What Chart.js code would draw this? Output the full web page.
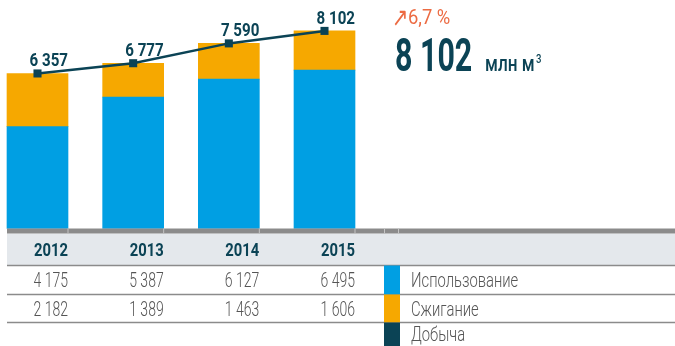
<!DOCTYPE html>
<html>
<head>
<meta charset="utf-8">
<script src="https://cdn.jsdelivr.net/npm/chart.js@4.4.1/dist/chart.umd.min.js"></script>
<style>
  html, body { margin: 0; padding: 0; background: #fff; }
  #wrap { position: relative; width: 675px; height: 346px; }
</style>
</head>
<body>
<div id="wrap"><canvas id="gasChart"></canvas></div>
<script>
// Попутный газ, млн м3
const years = ['2012', '2013', '2014', '2015'];
const usage = [4175, 5387, 6127, 6495];        // Использование
const flaring = [2182, 1389, 1463, 1606];      // Сжигание
const production = [6357, 6777, 7590, 8102];   // Добыча
const legendNames = ['Использование', 'Сжигание', 'Добыча'];

const BLUE = '#009fe3';
const ORANGE = '#f6a800';
const TEAL = '#0b4355';
const GREY_TXT = '#555555';
const RED = '#ec6b43';
const FONT = 'Roboto, "DejaVu Sans", sans-serif';

// 6 357 -> "6 357"
function fmt(v) {
    return String(v).replace(/\B(?=(\d{3})+(?!\d))/g, ' ');
}

// узкий шрифт: сжимаем текст по горизонтали
function drawText(ctx, str, x, y, font, color, align, sx) {
    ctx.save();
    ctx.font = font;
    ctx.fillStyle = color;
    ctx.textAlign = align;
    ctx.textBaseline = 'alphabetic';
    ctx.translate(x, y);
    ctx.scale(sx, 1);
    ctx.fillText(str, 0, 0);
    ctx.restore();
}

const barHalf = 30.5;

const tablePlugin = {
    id: 'gasTable',
    afterDatasetsDraw(chart) {
        const ctx = chart.ctx;
        const xs = chart.scales.x;
        const ys = chart.scales.y;
        const meta = chart.getDatasetMeta(2);

        // подписи над точками добычи
        production.forEach((v, i) => {
            const p = meta.data[i];
            drawText(ctx, fmt(v), xs.getPixelForValue(i) + barHalf, p.y - 7,
                'bold 18px ' + FONT, TEAL, 'right', 0.84);
        });

        const base = ys.getPixelForValue(0);
        const left = 7, right = 675;

        // шапка таблицы
        ctx.fillStyle = '#e4e8ec';
        ctx.fillRect(left, base + 5, right - left, 32);
        ctx.fillStyle = '#8b8b8b';
        ctx.fillRect(left, base, right - left, 5);
        ctx.fillStyle = '#c4c4c4';
        years.forEach((y, i) => {
            ctx.fillRect(xs.getPixelForValue(i) + barHalf - 0.5, base, 1, 5);
        });
        ctx.fillRect(384, base, 1, 5);
        ctx.fillRect(398, base, 1, 5);

        // линии строк
        const rows = [base + 37, base + 66, base + 94];
        ctx.fillStyle = '#8b8b8b';
        rows.forEach(r => ctx.fillRect(left, r - 0.75, right - left, 1.5));

        years.forEach((y, i) => {
            const xr = xs.getPixelForValue(i) + barHalf;
            drawText(ctx, y, xr, base + 27, 'bold 19px ' + FONT, TEAL, 'right', 0.78);
            drawText(ctx, fmt(usage[i]), xr, base + 58, '300 20px ' + FONT, GREY_TXT, 'right', 0.7);
            drawText(ctx, fmt(flaring[i]), xr, base + 87, '300 20px ' + FONT, GREY_TXT, 'right', 0.7);
        });

        // легенда справа от таблицы
        const boxes = [[BLUE, rows[0], rows[1]], [ORANGE, rows[1], rows[2]], [TEAL, rows[2], 346]];
        boxes.forEach(([c, y0, y1], k) => {
            ctx.fillStyle = c;
            ctx.fillRect(384, y0, 16, y1 - y0);
            drawText(ctx, legendNames[k], 411, (y0 + y1) / 2 + 7, '300 20px ' + FONT, GREY_TXT, 'left', 0.74);
        });

        // итог за последний год
        const last = production[production.length - 1];
        const prev = production[production.length - 2];
        const growth = ((last / prev - 1) * 100).toFixed(1).replace('.', ',');
        drawText(ctx, '↗', 392, 26, '26px "DejaVu Sans", sans-serif', RED, 'left', 0.75);
        drawText(ctx, growth + ' %', 408, 24, '20px ' + FONT, RED, 'left', 0.92);
        drawText(ctx, fmt(last), 395, 71, 'bold 46px ' + FONT, TEAL, 'left', 0.66);
        drawText(ctx, 'млн м', 485, 71, '500 22px ' + FONT, TEAL, 'left', 0.78);
        drawText(ctx, '3', 536, 63, '500 12px ' + FONT, TEAL, 'left', 0.8);
    }
};

const ctx = document.getElementById('gasChart').getContext('2d');
new Chart(ctx, {
    type: 'bar',
    data: {
        labels: years,
        datasets: [
            {
                label: legendNames[0],
                data: usage,
                backgroundColor: BLUE,
                stack: 'gas',
                barThickness: 61,
                clip: false,
                order: 2
            },
            {
                label: legendNames[1],
                data: flaring,
                backgroundColor: ORANGE,
                stack: 'gas',
                barThickness: 61,
                clip: false,
                order: 2
            },
            {
                type: 'line',
                label: legendNames[2],
                data: production,
                stack: 'total',
                borderColor: TEAL,
                borderWidth: 2.5,
                pointStyle: 'rect',
                pointRadius: 5.7,
                pointBorderWidth: 0,
                pointBackgroundColor: TEAL,
                tension: 0,
                clip: false,
                order: 1
            }
        ]
    },
    options: {
        responsive: true,
        maintainAspectRatio: false,
        animation: false,
        layout: { padding: { left: 37.5, right: 350.5, top: 9, bottom: 117.5 } },
        plugins: {
            legend: { display: false },
            tooltip: { enabled: false }
        },
        scales: {
            x: { display: false, stacked: true, offset: false },
            y: { display: false, stacked: true, min: 0, max: 9000 }
        }
    },
    plugins: [tablePlugin]
});
</script>
</body>
</html>
